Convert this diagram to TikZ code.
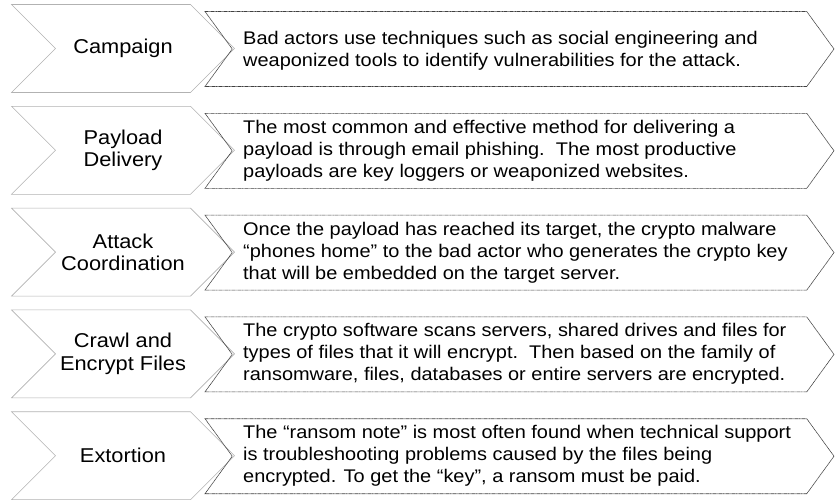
\documentclass[tikz,border=0pt]{standalone}
\usepackage{fontspec}
\setmainfont{Liberation Sans}[FakeStretch=1.09]
\usetikzlibrary{shapes.symbols}

\begin{document}
\begin{tikzpicture}[
  x=1pt,y=-1pt,
  chev/.style={signal,signal from=west,signal to=east,signal pointer angle=90,
    minimum width=223pt,minimum height=88pt,inner sep=0pt,draw=gray!60,fill=white,
    line width=0.6pt,align=center,font=\fontsize{20}{22.5}\selectfont},
  descbox/.style={signal,signal from=west,signal to=east,signal pointer angle=108,
    minimum width=629pt,minimum height=75pt,inner sep=0pt,draw=black!75,
    line width=0.6pt,dash pattern=on 0.9pt off 0.4pt},
  desc/.style={anchor=west,align=left,inner sep=0pt,font=\fontsize{18.3}{22}\selectfont}
]
\useasboundingbox (0,0) rectangle (835,499);
\node[chev]    (camp)    at (123,48.5)    {Campaign};
\node[descbox] (campbox) at (519.5,49)    {};
\node[desc]    (camptxt) at (243,51)      {Bad actors use techniques such as social engineering and\\weaponized tools to identify vulnerabilities for the attack.};
\node[chev]    (pay)     at (123,150.3)   {Payload\\Delivery};
\node[descbox] (paybox)  at (519.5,150.8) {};
\node[desc]    (paytxt)  at (243,150.5)   {The most common and effective method for delivering a\\payload is through email phishing.\ \ The most productive\\payloads are key loggers or weaponized websites.};
\node[chev]    (atk)     at (123,252.1)   {Attack\\Coordination};
\node[descbox] (atkbox)  at (519.5,252.6) {};
\node[desc]    (atktxt)  at (243,252.3)   {Once the payload has reached its target, the crypto malware\\“phones home” to the bad actor who generates the crypto key\\that will be embedded on the target server.};
\node[chev]    (crawl)   at (123,353.9)   {Crawl and\\Encrypt Files};
\node[descbox] (crawlbox) at (519.5,354.4) {};
\node[desc]    (crawltxt) at (243,354.1)  {The crypto software scans servers, shared drives and files for\\types of files that it will encrypt.\ \ Then based on the family of\\ransomware, files, databases or entire servers are encrypted.};
\node[chev]    (ext)     at (123,455.7)   {Extortion};
\node[descbox] (extbox)  at (519.5,456.2) {};
\node[desc]    (exttxt)  at (243,455.9)   {The “ransom note” is most often found when technical support\\is troubleshooting problems caused by the files being\\encrypted. To get the “key”, a ransom must be paid.};
\end{tikzpicture}
\end{document}
